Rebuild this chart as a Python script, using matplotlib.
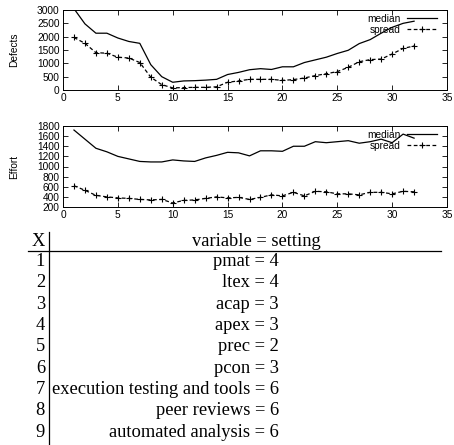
import matplotlib
matplotlib.use("Agg")
import matplotlib.pyplot as plt

x = list(range(1, 33))
defects_median = [3050, 2480, 2130, 2130, 1950, 1820, 1750, 950, 500, 290, 340, 350, 370, 400, 580, 660,
                  760, 800, 770, 870, 870, 1030, 1130, 1230, 1370, 1490, 1740, 1890, 2130, 2350, 2500, 2580]
defects_spread = [1970, 1750, 1400, 1380, 1230, 1200, 1030, 480, 200, 80, 90, 100, 100, 120, 290, 340,
                  400, 400, 400, 360, 390, 450, 540, 610, 690, 850, 1060, 1140, 1160, 1350, 1560, 1650]
effort_median = [1720, 1540, 1360, 1290, 1200, 1150, 1100, 1090, 1090, 1130, 1110, 1100, 1170, 1220, 1280, 1270,
                 1210, 1310, 1310, 1300, 1400, 1400, 1490, 1470, 1490, 1510, 1460, 1490, 1540, 1470, 1640, 1560]
effort_spread = [620, 530, 430, 400, 380, 370, 350, 340, 350, 280, 330, 340, 370, 400, 380, 390,
                 350, 390, 440, 420, 490, 420, 510, 500, 460, 460, 440, 490, 490, 460, 510, 500]

table_x = ["1", "2", "3", "4", "5", "6", "7", "8", "9"]
table_setting = ["pmat = 4", "ltex = 4", "acap = 3", "apex = 3", "prec = 2", "pcon = 3",
                 "execution testing and tools = 6", "peer reviews = 6", "automated analysis = 6"]

W, H = 454, 445
fig = plt.figure(figsize=(W / 100, H / 100), dpi=100)
sans = ["Liberation Sans", "DejaVu Sans"]
serif = ["Liberation Serif", "DejaVu Serif"]


def ax_rect(l, t, r, b):
    return [l / W, 1 - b / H, (r - l) / W, (b - t) / H]


def make_panel(rect, med, spr, ylim, yticks, ylabel):
    l, t, r, b = rect
    ax = fig.add_axes(ax_rect(*rect))
    ax.plot(x, med, color="black", lw=0.9, label="median")
    ax.plot(x, spr, color="black", lw=0.9, ls=(0, (3, 2)), marker="+", ms=4.5, mew=0.8, label="spread")
    ax.set_xlim(0, 35)
    ax.set_ylim(*ylim)
    ax.set_xticks(range(0, 36, 5))
    ax.set_yticks(yticks)
    ax.tick_params(direction="in", top=True, right=True, length=3.5, width=0.6, labelsize=7.3, pad=2.5)
    for lab in ax.get_xticklabels() + ax.get_yticklabels():
        lab.set_family(sans)
    for s in ax.spines.values():
        s.set_linewidth(0.7)
    ax.set_ylabel(ylabel, family=sans, fontsize=7.3, va="center")
    ax.yaxis.set_label_coords((14 - l) / (r - l), 0.5)
    leg = ax.legend(loc="upper right", frameon=False, prop={"family": sans, "size": 7.3},
                    handlelength=3.0, handletextpad=0.55, labelspacing=0.1, borderaxespad=0,
                    borderpad=0, markerfirst=False,
                    bbox_to_anchor=((437 - l) / (r - l), 1 - 3.5 / (b - t)))
    for tx in leg.get_texts():
        tx.set_ha("right")
    return ax


make_panel((63, 10, 447, 90), defects_median, defects_spread, (0, 3000),
           range(0, 3001, 500), "Defects")
make_panel((63, 126, 447, 207), effort_median, effort_spread, (200, 1800),
           range(200, 1801, 200), "Effort")

# table
tax = fig.add_axes([0, 0, 1, 1])
tax.set_xlim(0, W)
tax.set_ylim(H, 0)
tax.axis("off")
fs = 13.3
tax.text(45, 241, "X", family=serif, fontsize=fs, ha="right", va="center")
tax.text(256, 241, "variable = setting", family=serif, fontsize=fs, ha="center", va="center")
tax.plot([28, 441], [250.5, 250.5], color="black", lw=0.9)
tax.plot([49, 49], [232, 445], color="black", lw=0.9)
y0, dy = 261.5, 21.35
for i, (xx, st) in enumerate(zip(table_x, table_setting)):
    yy = y0 + i * dy
    tax.text(45, yy, xx, family=serif, fontsize=fs, ha="right", va="center")
    tax.text(279, yy, st, family=serif, fontsize=fs, ha="right", va="center")

fig.savefig("out.png", dpi=100)
